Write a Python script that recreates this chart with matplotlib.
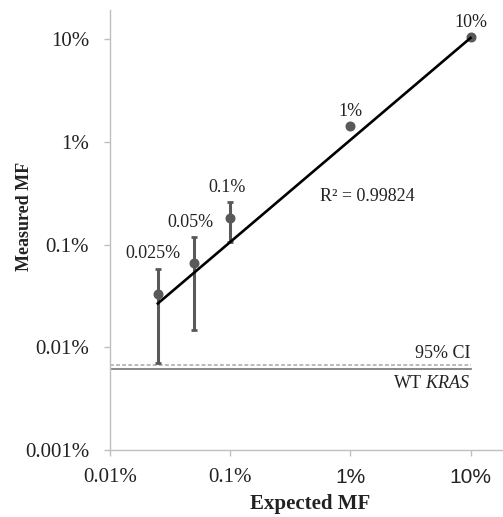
import matplotlib
matplotlib.use("Agg")
import matplotlib.pyplot as plt
import numpy as np

plt.rcParams["mathtext.fontset"] = "custom"
plt.rcParams["mathtext.rm"] = "Liberation Serif"
plt.rcParams["mathtext.it"] = "Liberation Serif:italic"

# mutant fraction, all values in percent
expected = [0.025, 0.05, 0.1, 1.0, 10.0]
measured = [0.0329, 0.0669, 0.182, 1.43, 10.4]
err_hi = [0.0585, 0.119, 0.261, 1.43, 10.4]
err_lo = [0.0071, 0.0149, 0.106, 1.43, 10.4]
point_labels = ["0.025%", "0.05%", "0.1%", "1%", "10%"]

# power-law trendline: measured = a * expected ** b
fit_a = 1.045
fit_b = 0.994
r_squared = 0.99824

ci_95 = 0.00678
wt_kras = 0.0062

x_ticks = [0.01, 0.1, 1, 10]
x_tick_labels = ["0.01%", "0.1%", "1%", "10%"]
y_ticks = [0.001, 0.01, 0.1, 1, 10]
y_tick_labels = ["0.001%", "0.01%", "0.1%", "1%", "10%"]

SERIF = "Liberation Serif"
SANS = "Liberation Sans"
AXIS_GRAY = "#bfbfbf"
MARK_GRAY = "#595959"
TEXT = "#222222"

fig = plt.figure(figsize=(5.03, 5.17), dpi=100)
ax = fig.add_axes([0.2187, 0.1296, 0.7813, 0.8511])
ax.set_xscale("log")
ax.set_yscale("log")
ax.set_xlim(0.01, 10 ** 1.27)
ax.set_ylim(0.001, 10 ** 1.285)

# reference lines
ax.plot([0.01, 10], [ci_95, ci_95], color="#a6a6a6", lw=1.1, ls=(0, (2.5, 1.5)))
ax.plot([0.01, 10], [wt_kras, wt_kras], color="#7f7f7f", lw=1.3)

# error bars and points
meas = np.array(measured)
yerr = [meas - np.array(err_lo), np.array(err_hi) - meas]
ax.errorbar(expected, measured, yerr=yerr, fmt="o", color=MARK_GRAY,
            ms=6.2, elinewidth=2.2, capsize=2.3, capthick=2.0, zorder=3)

# trendline
fx = np.array([expected[0], expected[-1]])
ax.plot(fx, fit_a * fx ** fit_b, color="black", lw=1.9, zorder=4)

# point labels sit just above each bar top
x_shift = [-3.6, -2.9, -2.2, 0, 0]
for x, y, lab, dx in zip(expected, err_hi, point_labels, x_shift):
    ax.annotate(lab, (x, y), xytext=(dx, 10.5), textcoords="offset points",
                ha="center", va="center", fontsize=13, family=SERIF, color=TEXT)

ax.text(0.654, 0.575, f"R² = {r_squared:.5f}", transform=ax.transAxes,
        ha="center", va="center", fontsize=13, family=SERIF, color=TEXT)
ax.annotate("95% CI", (10, ci_95), xytext=(0, 8), textcoords="offset points",
            ha="right", va="center", fontsize=13, family=SERIF, color=TEXT)
ax.annotate("WT $\\it{KRAS}$", (10, wt_kras), xytext=(0, -11), textcoords="offset points",
            ha="right", va="center", fontsize=13, family=SERIF, color=TEXT)

# axes styling
for side in ("top", "right"):
    ax.spines[side].set_visible(False)
for side in ("left", "bottom"):
    ax.spines[side].set_color(AXIS_GRAY)
    ax.spines[side].set_linewidth(1.0)

ax.set_xticks(x_ticks)
ax.set_xticklabels(x_tick_labels)
ax.set_yticks(y_ticks)
ax.set_yticklabels(y_tick_labels)
ax.minorticks_off()
ax.tick_params(axis="both", colors=AXIS_GRAY, labelcolor=TEXT, length=4, width=1.0)
ax.tick_params(axis="x", pad=9)
ax.tick_params(axis="y", pad=11)
for lab in ax.get_yticklabels():
    lab.set_family(SERIF)
    lab.set_fontsize(15)
for lab in ax.get_xticklabels():
    lab.set_family(SERIF if lab.get_text() in ("0.01%", "0.1%") else SANS)
    lab.set_fontsize(15)

ax.set_xlabel("Expected MF", fontsize=15, family=SERIF, fontweight="bold", color=TEXT)
ax.set_ylabel("Measured MF", fontsize=13, family=SERIF, fontweight="bold", color=TEXT)
ax.xaxis.set_label_coords(0.509, -0.100)
ax.yaxis.set_label_coords(-0.196, 0.53)

fig.savefig("out.png", dpi=100)
